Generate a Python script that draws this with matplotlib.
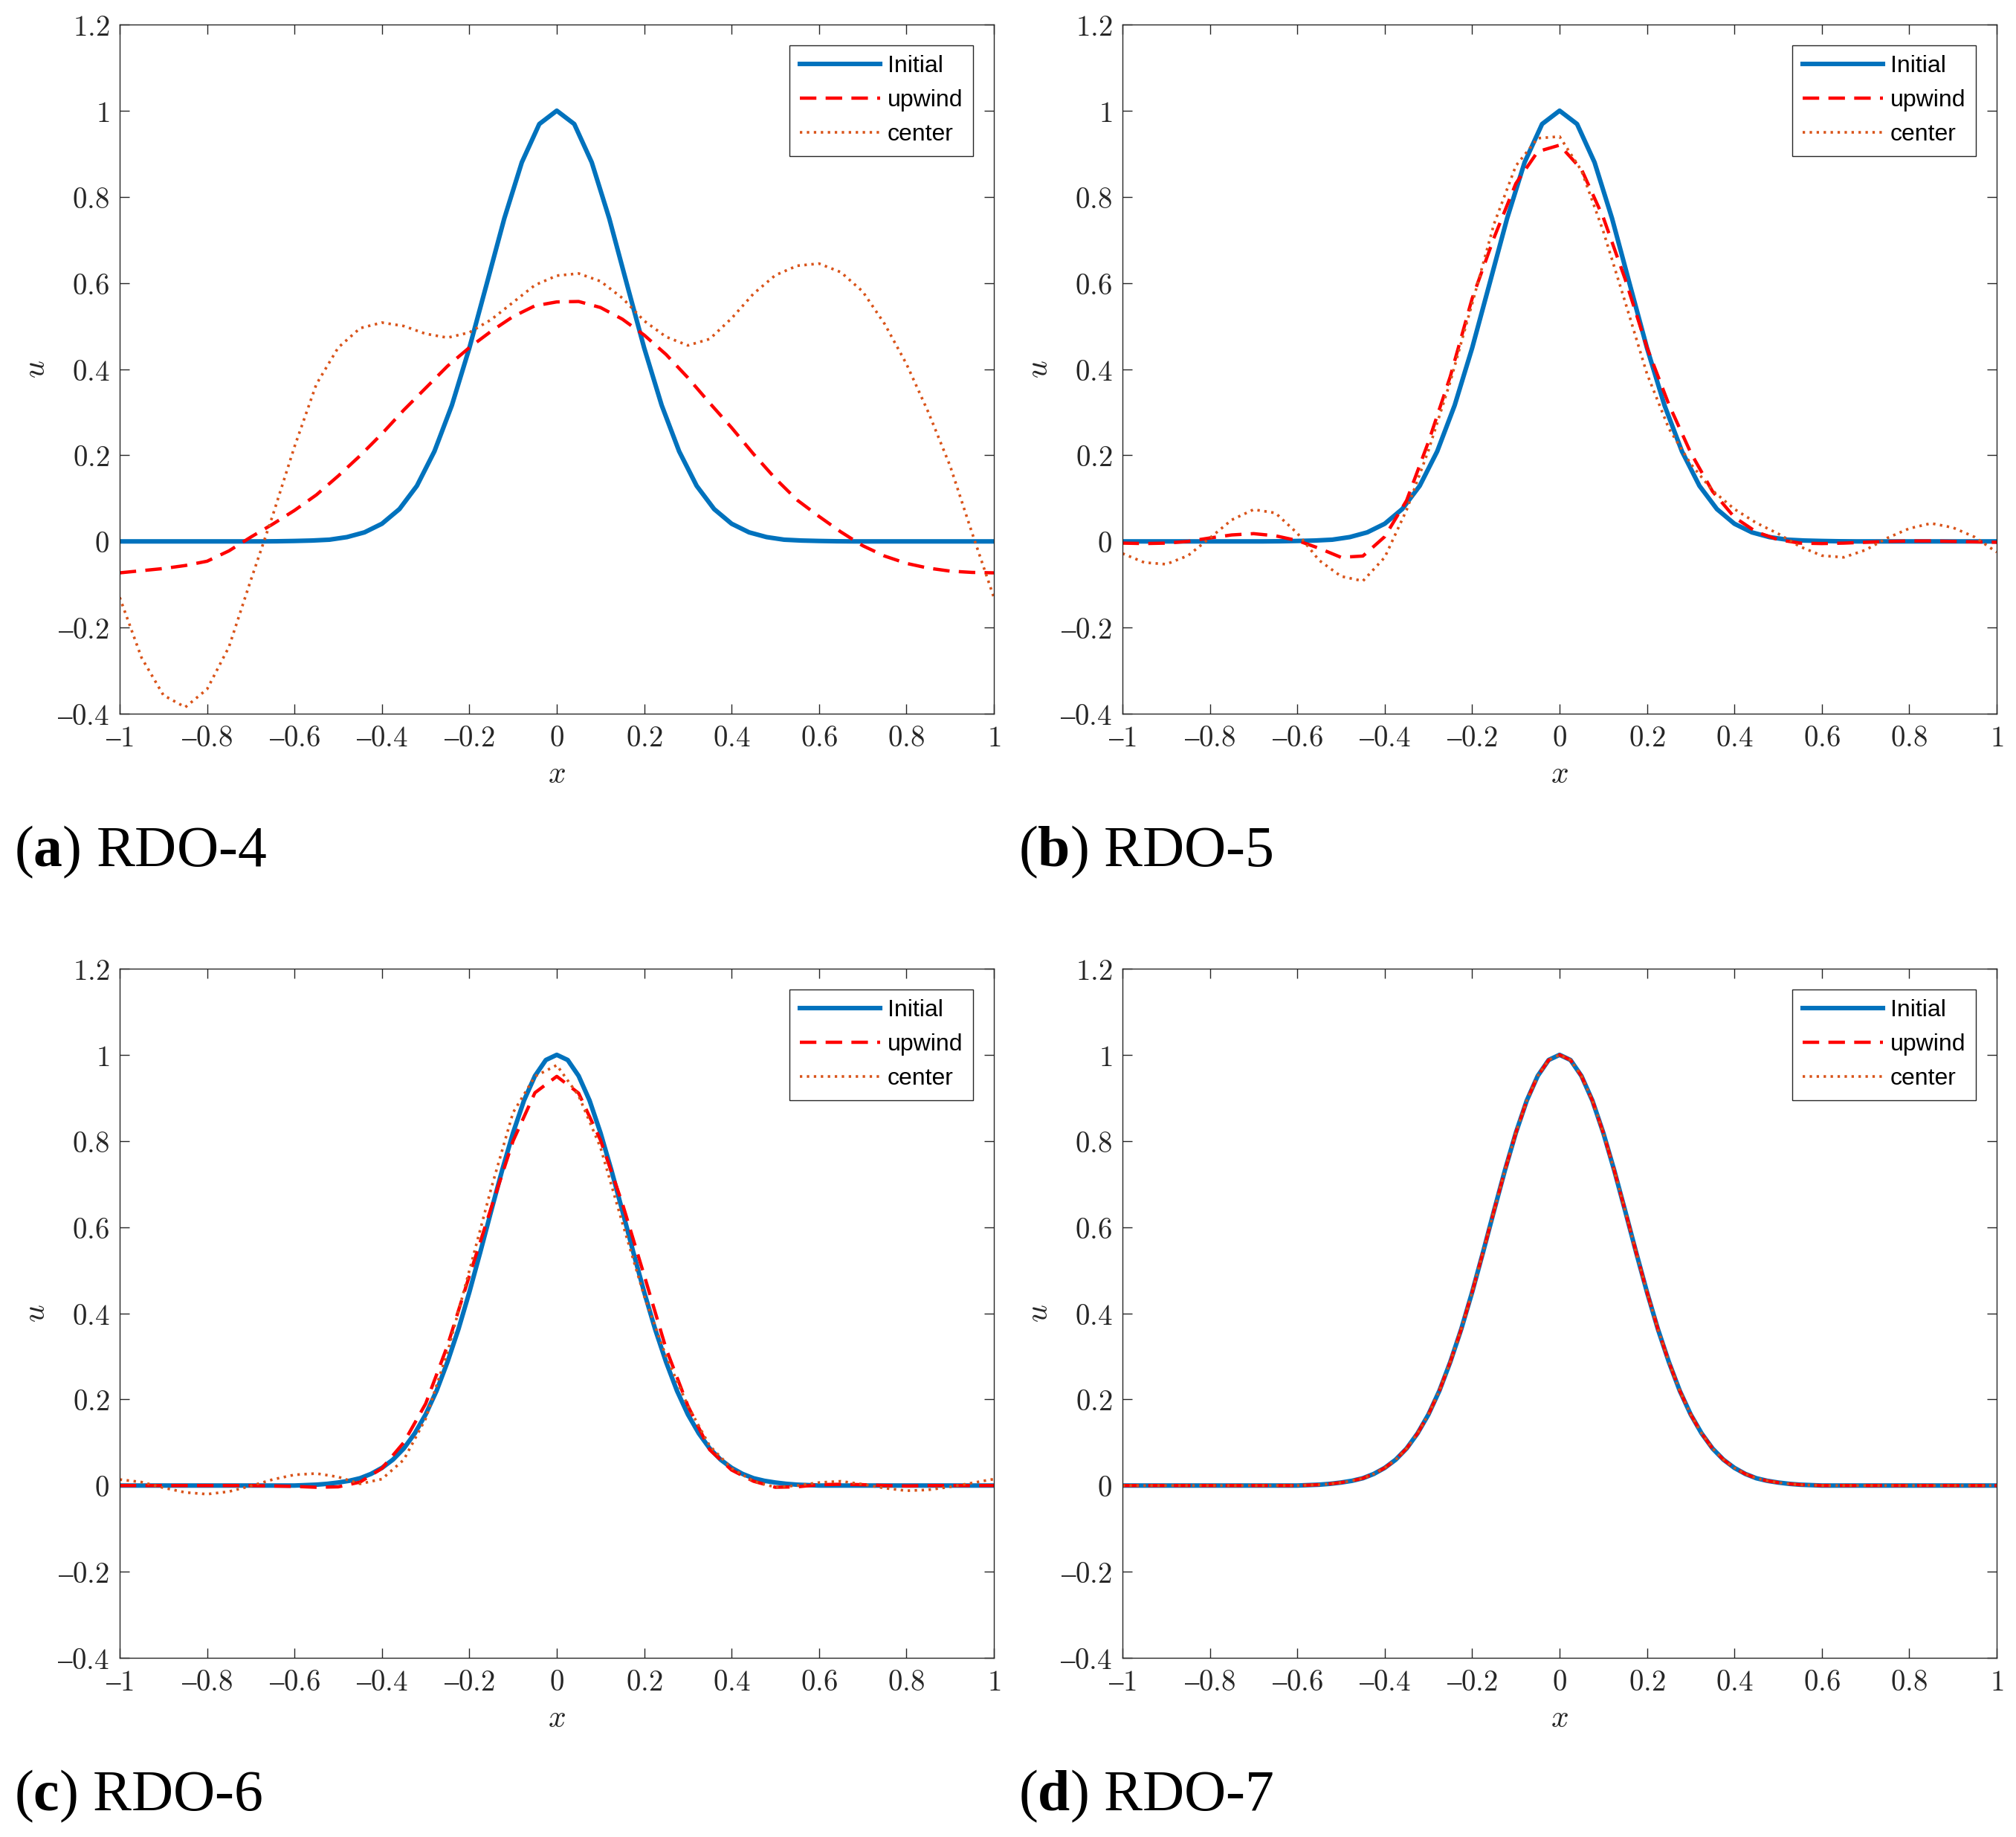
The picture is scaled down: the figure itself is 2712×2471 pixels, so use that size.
import numpy as np
import matplotlib.pyplot as plt

plt.rcParams['mathtext.fontset'] = 'cm'
plt.rcParams['mathtext.rm'] = 'Liberation Serif'
plt.rcParams['mathtext.bf'] = 'Liberation Serif:bold'
plt.rcParams['mathtext.it'] = 'Liberation Serif:italic'

# ---- data ----
# coarse grid (step 0.04) used for the initial profile in (a) and (b)
x_coarse = np.linspace(-1, 1, 51)
initial_coarse = [0, 0, 0, 0, 0, 0, 0, 0, 0, 0.0003, 0.001, 0.002, 0.004, 0.010,
                  0.021, 0.041, 0.075, 0.129, 0.209, 0.316, 0.449, 0.599, 0.750,
                  0.880, 0.969, 1.000, 0.969, 0.880, 0.750, 0.599, 0.449, 0.316,
                  0.209, 0.129, 0.075, 0.041, 0.021, 0.010, 0.004, 0.002, 0.001,
                  0.0003, 0, 0, 0, 0, 0, 0, 0, 0, 0]

# fine grid (step 0.025) used in (c) and (d)
x_fine = np.linspace(-1, 1, 81)
initial_fine = [0] * 17 + [0.001, 0.002, 0.004, 0.007, 0.011, 0.017, 0.027, 0.041,
                           0.060, 0.086, 0.121, 0.165, 0.220, 0.287, 0.363, 0.449,
                           0.542, 0.638, 0.732, 0.819, 0.894, 0.951, 0.988, 1.000,
                           0.988, 0.951, 0.894, 0.819, 0.732, 0.638, 0.542, 0.449,
                           0.363, 0.287, 0.220, 0.165, 0.121, 0.086, 0.060, 0.041,
                           0.027, 0.017, 0.011, 0.007, 0.004, 0.002, 0.001] + [0] * 17

# solution curves, step 0.05 from -1 to 1
x_sol = np.linspace(-1, 1, 41)

upwind_a = [-0.073, -0.068, -0.063, -0.056, -0.046, -0.022, 0.010, 0.040, 0.072,
            0.108, 0.152, 0.199, 0.250, 0.305, 0.356, 0.407, 0.450, 0.488, 0.522,
            0.547, 0.556, 0.557, 0.543, 0.516, 0.479, 0.434, 0.380, 0.321, 0.264,
            0.203, 0.146, 0.096, 0.058, 0.022, -0.010, -0.034, -0.051, -0.062,
            -0.069, -0.072, -0.073]
center_a = [-0.13, -0.27, -0.357, -0.385, -0.343, -0.245, -0.09, 0.06, 0.22, 0.365,
            0.45, 0.495, 0.508, 0.500, 0.482, 0.473, 0.485, 0.515, 0.555, 0.595,
            0.617, 0.622, 0.604, 0.565, 0.512, 0.475, 0.455, 0.470, 0.518, 0.575,
            0.618, 0.640, 0.645, 0.625, 0.580, 0.505, 0.412, 0.300, 0.175, 0.02,
            -0.13]

upwind_b = [-0.004, -0.005, -0.004, 0.000, 0.008, 0.015, 0.018, 0.013, 0.002,
            -0.016, -0.037, -0.034, 0.011, 0.095, 0.231, 0.383, 0.564, 0.705,
            0.831, 0.905, 0.920, 0.864, 0.752, 0.609, 0.450, 0.318, 0.206, 0.116,
            0.056, 0.022, 0.004, -0.004, -0.005, -0.004, -0.002, 0.000, 0.001,
            0.001, 0.000, -0.001, -0.002]
center_b = [-0.028, -0.049, -0.053, -0.033, 0.008, 0.050, 0.074, 0.066, 0.019,
            -0.044, -0.081, -0.092, -0.037, 0.073, 0.211, 0.371, 0.552, 0.737,
            0.872, 0.936, 0.940, 0.861, 0.720, 0.556, 0.389, 0.262, 0.180, 0.118,
            0.075, 0.043, 0.018, -0.012, -0.033, -0.037, -0.020, 0.008, 0.030,
            0.042, 0.032, 0.010, -0.025]

upwind_c = [0, 0, 0, 0, 0, 0, 0, -0.001, -0.002, -0.004, -0.003, 0.008, 0.040,
            0.100, 0.190, 0.325, 0.487, 0.645, 0.800, 0.912, 0.950, 0.911, 0.802,
            0.655, 0.488, 0.318, 0.185, 0.083, 0.036, 0.010, -0.004, -0.003, 0.002,
            0.003, 0.002, 0.000, -0.001, 0, 0, 0, 0]
center_c = [0.014, 0.008, -0.005, -0.016, -0.020, -0.014, -0.001, 0.014, 0.025,
            0.028, 0.020, 0.004, 0.015, 0.060, 0.155, 0.310, 0.499, 0.690, 0.866,
            0.950, 0.976, 0.905, 0.785, 0.610, 0.440, 0.300, 0.185, 0.092, 0.040,
            0.010, -0.004, 0.000, 0.007, 0.010, 0.003, -0.006, -0.012, -0.010,
            -0.003, 0.006, 0.015]

# in (d) the three curves lie on top of each other
upwind_d = initial_fine
center_d = initial_fine

panels = [
    ('a', 'RDO-4', x_coarse, initial_coarse, x_sol, upwind_a, center_a),
    ('b', 'RDO-5', x_coarse, initial_coarse, x_sol, upwind_b, center_b),
    ('c', 'RDO-6', x_fine, initial_fine, x_sol, upwind_c, center_c),
    ('d', 'RDO-7', x_fine, initial_fine, x_fine, upwind_d, center_d),
]

xticks = [-1, -0.8, -0.6, -0.4, -0.2, 0, 0.2, 0.4, 0.6, 0.8, 1]
yticks = [-0.4, -0.2, 0, 0.2, 0.4, 0.6, 0.8, 1, 1.2]

W, H = 2712, 2471
fig = plt.figure(figsize=(W / 200, H / 200), dpi=200)

# axes boxes in pixels: left, top
boxes = [(161, 33), (1510, 33), (161, 1303), (1510, 1303)]
aw, ah = 1176, 927
caption_pos = [(19, 1165), (1370, 1165), (19, 2435), (1370, 2435)]

axcol = '#262626'


def fmt(v, pos):
    # short dash for the minus, like the original
    return ('$%g$' % v).replace('-', '\u2013')


for (tag, name, xi, ui, xs, uu, uc), (px, py), (cx, cy) in zip(panels, boxes, caption_pos):
    ax = fig.add_axes([px / W, 1 - (py + ah) / H, aw / W, ah / H])
    ax.plot(xi, ui, color='#0072BD', lw=2.2, label='Initial')
    ax.plot(xs, uu, color='#FF0000', lw=1.6, linestyle=(0, (5, 2.8)), label='upwind')
    ax.plot(xs, uc, color='#D95319', lw=1.3, linestyle=(0, (0.9, 1.7)), label='center')
    ax.set_xlim(-1, 1)
    ax.set_ylim(-0.4, 1.2)
    ax.set_xticks(xticks)
    ax.set_yticks(yticks)
    ax.xaxis.set_major_formatter(plt.FuncFormatter(fmt))
    ax.yaxis.set_major_formatter(plt.FuncFormatter(fmt))
    ax.tick_params(direction='in', length=4.7, width=0.5, top=True, right=True,
                   labelsize=14, colors=axcol, pad=5)
    for s in ax.spines.values():
        s.set_linewidth(0.5)
        s.set_color(axcol)
    ax.set_xlabel('$x$', fontsize=15, color=axcol, labelpad=3)
    ax.set_ylabel('$u$', fontsize=15, color=axcol, labelpad=3)

    leg = ax.legend(loc='upper right', bbox_to_anchor=(0.976, 0.970), borderaxespad=0,
                    fancybox=False, framealpha=1, edgecolor=axcol,
                    prop={'family': 'Liberation Sans', 'size': 11.5},
                    handlelength=3.4, handletextpad=0.3, labelspacing=0.5,
                    borderpad=0.42)
    leg.get_frame().set_linewidth(0.5)

    fig.text(cx / W, 1 - cy / H, r'($\mathbf{%s}$) %s' % (tag, name),
             fontfamily='Liberation Serif', math_fontfamily='custom',
             fontsize=28, va='baseline', ha='left')

fig.savefig('out.png', dpi=200)
